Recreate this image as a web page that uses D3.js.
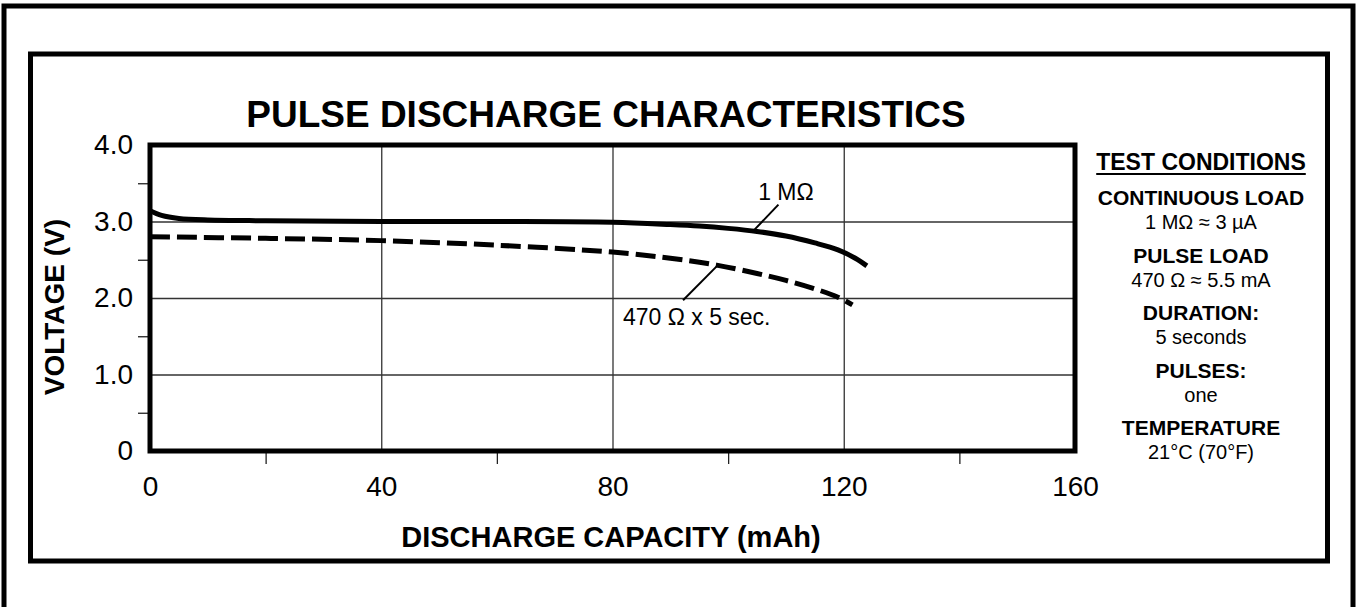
<!DOCTYPE html>
<html>
<head>
<meta charset="utf-8">
<script src="https://cdn.jsdelivr.net/npm/d3@7/dist/d3.min.js"></script>
<style>
  body { margin: 0; background: #fff; }
  svg { display: block; font-family: "Liberation Sans", Arial, Helvetica, sans-serif; }
</style>
</head>
<body>
<div class="visHolder"></div>
<script>
// capacity (mAh) / voltage (V)
var contCapacity = [0, 2, 5, 10, 20, 40, 60, 80, 90, 95, 100, 105, 110, 115, 119, 122, 124];
var contVoltage  = [3.14, 3.08, 3.04, 3.02, 3.01, 3.0, 3.0, 2.99, 2.96, 2.94, 2.91, 2.87, 2.81, 2.72, 2.63, 2.52, 2.42];
var pulseCapacity = [0, 20, 40, 60, 80, 90, 98, 105, 110, 115, 119, 121.5];
var pulseVoltage  = [2.80, 2.78, 2.75, 2.69, 2.60, 2.52, 2.43, 2.32, 2.23, 2.12, 2.01, 1.91];

var xTicks = [0, 40, 80, 120, 160];
var xMinor = [20, 60, 100, 140];
var yTicks = [0, 1, 2, 3, 4];
var yMinor = [0.5, 1.5, 2.5, 3.5];

var titleText = 'PULSE DISCHARGE CHARACTERISTICS';
var xTitle = 'DISCHARGE CAPACITY (mAh)';
var yTitle = 'VOLTAGE (V)';

var conditions = [
  ['CONTINUOUS LOAD', '1 M\u03A9 \u2248 3 \u00B5A'],
  ['PULSE LOAD', '470 \u03A9 \u2248 5.5 mA'],
  ['DURATION:', '5 seconds'],
  ['PULSES:', 'one'],
  ['TEMPERATURE', '21\u00B0C (70\u00B0F)']
];

var width = 1356, height = 607;
var plotLeft = 150, plotRight = 1075, plotTop = 145, plotBottom = 451;

var svg = d3.select('.visHolder')
  .append('svg')
  .attr('width', width)
  .attr('height', height);

// frames
svg.append('rect')
  .attr('x', 4).attr('y', 6)
  .attr('width', 1349).attr('height', 700)
  .attr('fill', 'none').attr('stroke', '#000').attr('stroke-width', 5);
svg.append('rect')
  .attr('x', 30.5).attr('y', 54)
  .attr('width', 1297).attr('height', 507)
  .attr('fill', 'none').attr('stroke', '#000').attr('stroke-width', 5);

var xScale = d3.scaleLinear().domain([0, 160]).range([plotLeft, plotRight]);
var yScale = d3.scaleLinear().domain([0, 4]).range([plotBottom, plotTop]);

// grid
svg.append('g')
  .attr('class', 'grid')
  .attr('transform', 'translate(0,' + plotBottom + ')')
  .call(d3.axisBottom(xScale).tickValues([40, 80, 120]).tickSize(-(plotBottom - plotTop)).tickFormat(''))
  .call(g => g.select('.domain').remove());
svg.append('g')
  .attr('class', 'grid')
  .attr('transform', 'translate(' + plotLeft + ',0)')
  .call(d3.axisLeft(yScale).tickValues([1, 2, 3]).tickSize(-(plotRight - plotLeft)).tickFormat(''))
  .call(g => g.select('.domain').remove());
svg.selectAll('.grid line').attr('stroke', '#333').attr('stroke-width', 1.3);

// minor ticks
svg.append('g')
  .attr('class', 'minor')
  .attr('transform', 'translate(0,' + plotBottom + ')')
  .call(d3.axisBottom(xScale).tickValues(xMinor).tickSize(13).tickFormat(''));
svg.append('g')
  .attr('class', 'minor')
  .attr('transform', 'translate(' + plotLeft + ',0)')
  .call(d3.axisLeft(yScale).tickValues(yMinor).tickSize(12).tickFormat(''));
svg.selectAll('.minor .domain').remove();
svg.selectAll('.minor line').attr('stroke', '#222').attr('stroke-width', 1.3);

// tick labels
var xAxis = svg.append('g')
  .attr('transform', 'translate(0,' + plotBottom + ')')
  .call(d3.axisBottom(xScale).tickValues(xTicks).tickSize(0).tickPadding(25).tickFormat(d3.format('d')));
var yAxis = svg.append('g')
  .attr('transform', 'translate(' + plotLeft + ',0)')
  .call(d3.axisLeft(yScale).tickValues(yTicks).tickSize(0).tickPadding(17)
    .tickFormat(function (d) { return d === 0 ? '0' : d.toFixed(1); }));
[xAxis, yAxis].forEach(function (a) {
  a.select('.domain').remove();
  a.selectAll('text')
    .attr('fill', '#000')
    .style('font-family', '"Liberation Sans", Arial, sans-serif')
    .style('font-size', '28px');
});

// curves
var line = d3.line()
  .x(function (d) { return xScale(d[0]); })
  .y(function (d) { return yScale(d[1]); })
  .curve(d3.curveCatmullRom.alpha(0.5));

svg.append('path')
  .datum(d3.zip(contCapacity, contVoltage))
  .attr('d', line)
  .attr('fill', 'none')
  .attr('stroke', '#000')
  .attr('stroke-width', 5);

svg.append('path')
  .datum(d3.zip(pulseCapacity, pulseVoltage))
  .attr('d', line)
  .attr('fill', 'none')
  .attr('stroke', '#000')
  .attr('stroke-width', 5)
  .attr('stroke-dasharray', '20,7');

// plot frame
svg.append('rect')
  .attr('x', plotLeft).attr('y', plotTop)
  .attr('width', plotRight - plotLeft).attr('height', plotBottom - plotTop)
  .attr('fill', 'none').attr('stroke', '#000').attr('stroke-width', 5);

// curve labels + leaders
function leader(x1, y1, x2, y2) {
  svg.append('line')
    .attr('x1', xScale(x1)).attr('y1', yScale(y1))
    .attr('x2', xScale(x2)).attr('y2', yScale(y2))
    .attr('stroke', '#000').attr('stroke-width', 2);
}
leader(108.7, 3.22, 104.4, 2.88);
leader(98.1, 2.42, 92.2, 1.97);

svg.append('text')
  .attr('x', xScale(105.2)).attr('y', yScale(3.28))
  .style('font-size', '23px')
  .text('1 M\u03A9');
svg.append('text')
  .attr('x', xScale(81.8)).attr('y', yScale(1.65))
  .style('font-size', '23px')
  .text('470 \u03A9 x 5 sec.');

// titles
svg.append('text')
  .attr('x', 606).attr('y', 127)
  .attr('text-anchor', 'middle')
  .style('font-size', '37px').style('font-weight', 'bold')
  .text(titleText);
svg.append('text')
  .attr('x', 611).attr('y', 547)
  .attr('text-anchor', 'middle')
  .style('font-size', '29px').style('font-weight', 'bold')
  .text(xTitle);
svg.append('text')
  .attr('transform', 'translate(64,307) rotate(-90)')
  .attr('text-anchor', 'middle')
  .style('font-size', '28px').style('font-weight', 'bold')
  .text(yTitle);

// test conditions panel
var cx = 1201;
var tc = svg.append('text')
  .attr('x', cx).attr('y', 170)
  .attr('text-anchor', 'middle')
  .style('font-size', '23px').style('font-weight', 'bold')
  .text('TEST CONDITIONS');
var tw = tc.node().getComputedTextLength();
svg.append('line')
  .attr('x1', cx - tw / 2).attr('x2', cx + tw / 2)
  .attr('y1', 174).attr('y2', 174)
  .attr('stroke', '#000').attr('stroke-width', 2);

var yPos = 205;
conditions.forEach(function (c) {
  svg.append('text')
    .attr('x', cx).attr('y', yPos)
    .attr('text-anchor', 'middle')
    .style('font-size', '21px').style('font-weight', 'bold')
    .text(c[0]);
  svg.append('text')
    .attr('x', cx).attr('y', yPos + 24)
    .attr('text-anchor', 'middle')
    .style('font-size', '20px')
    .text(c[1]);
  yPos += 57.5;
});
</script>
</body>
</html>
